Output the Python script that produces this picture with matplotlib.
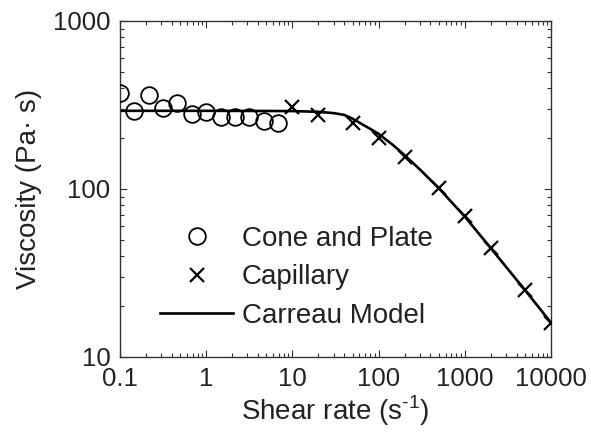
import matplotlib
matplotlib.use("Agg")
import matplotlib.pyplot as plt
from matplotlib.ticker import FixedLocator, FixedFormatter, LogLocator, NullFormatter

plt.rcParams.update({
    "font.family": ["Liberation Sans", "DejaVu Sans"],
    "font.size": 20,
    "mathtext.fontset": "custom",
    "mathtext.rm": "Liberation Sans",
    "text.color": "#222222",
    "axes.labelcolor": "#222222",
    "xtick.color": "#333333",
    "ytick.color": "#333333",
    "xtick.labelcolor": "#222222",
    "ytick.labelcolor": "#222222",
})

# cone-and-plate rheometer
cp_rate = [0.1, 0.147, 0.215, 0.316, 0.464, 0.681, 1.0, 1.47, 2.15, 3.16, 4.64, 6.81]
cp_visc = [372, 292, 365, 305, 325, 279, 288, 269, 267, 267, 253, 247]

# capillary rheometer
cap_rate = [10, 20, 50, 100, 200, 500, 1000, 2000, 5000, 10000]
cap_visc = [306, 275, 246, 202, 156, 102, 69.5, 44.5, 25.1, 15.9]

# Carreau model curve
model_rate = [0.1, 1, 10, 20, 30, 40, 50, 60, 80, 100, 150, 200, 300, 500,
              1000, 2000, 5000, 10000]
model_visc = [292, 292, 291, 288, 283, 276, 262, 248, 228, 213, 181, 159,
              131, 101, 68.5, 44.5, 25, 16]

fig = plt.figure(figsize=(5.91, 4.41), dpi=100)
ax = fig.add_axes([120 / 591, 1 - 357 / 441, 431 / 591, 336 / 441])

ax.plot(cp_rate, cp_visc, linestyle="none", marker="o", markersize=12,
        markerfacecolor="none", markeredgecolor="black", markeredgewidth=1.3,
        label="Cone and Plate", zorder=3)
ax.plot(cap_rate, cap_visc, linestyle="none", marker="x", markersize=10.5,
        color="black", markeredgewidth=1.6, label="Capillary", zorder=3)
ax.plot(model_rate, model_visc, color="black", linewidth=1.9,
        label="Carreau Model", zorder=2)

ax.set_xscale("log")
ax.set_yscale("log")
ax.set_xlim(0.1, 10000)
ax.set_ylim(10, 1000)

xt = [0.1, 1, 10, 100, 1000, 10000]
ax.xaxis.set_major_locator(FixedLocator(xt))
ax.xaxis.set_major_formatter(FixedFormatter(["0.1", "1", "10", "100", "1000", "10000"]))
yt = [10, 100, 1000]
ax.yaxis.set_major_locator(FixedLocator(yt))
ax.yaxis.set_major_formatter(FixedFormatter(["10", "100", "1000"]))
for axis in (ax.xaxis, ax.yaxis):
    axis.set_minor_locator(LogLocator(base=10, subs=range(2, 10), numticks=20))
    axis.set_minor_formatter(NullFormatter())

ax.tick_params(which="both", direction="in", top=True, right=True,
               labelsize=18.5, width=0.8)
ax.tick_params(which="major", length=5)
ax.tick_params(which="minor", length=3)
ax.tick_params(axis="x", which="major", pad=7)
ax.tick_params(axis="y", which="major", pad=7)
for sp in ax.spines.values():
    sp.set_color("#333333")
    sp.set_linewidth(1.0)

ax.set_xlabel("Shear rate (s$^{\\mathregular{\u20101}}$)", fontsize=20, labelpad=2)
ax.set_ylabel("Viscosity (Pa\u00b7 s)", fontsize=20, labelpad=8)

leg = ax.legend(loc="upper left", bbox_to_anchor=(0.093, 0.39), frameon=False,
                fontsize=20, handlelength=2.63, handletextpad=0.31,
                labelspacing=0.45, borderpad=0, borderaxespad=0)

fig.savefig("out.png", dpi=100)
